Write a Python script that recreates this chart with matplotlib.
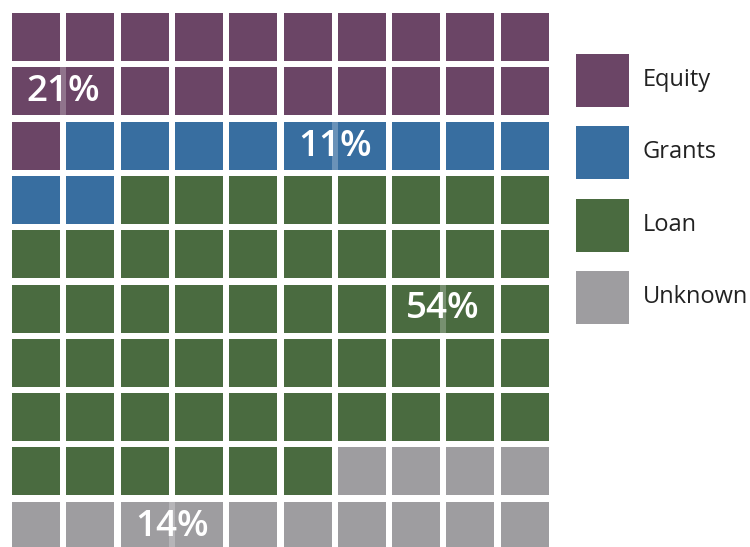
import matplotlib
matplotlib.use('Agg')
import matplotlib.pyplot as plt
from matplotlib.patches import Rectangle

# data
categories = ['Equity', 'Grants', 'Loan', 'Unknown']
counts = [21, 11, 54, 14]
colors = ['#6B4566', '#386EA0', '#4A6B40', '#9E9DA0']
pct_labels = ['21%', '11%', '54%', '14%']
# (row, col) of the gap where each label sits
label_cells = [(1, 0), (2, 5), (5, 7), (9, 2)]

plt.rcParams['font.family'] = ['Open Sans', 'DejaVu Sans']

fig = plt.figure(figsize=(7.5, 5.47), dpi=100)
ax = fig.add_axes([0, 0, 1, 1])
ax.set_xlim(0, 750)
ax.set_ylim(547, 0)
ax.axis('off')

x0, y0 = 12, 13
pitch = 54.3
size = 48

# waffle cells
cells = []
for ci, n in enumerate(counts):
    cells += [ci] * n
for i, ci in enumerate(cells):
    r, c = divmod(i, 10)
    ax.add_patch(Rectangle((x0 + c * pitch, y0 + r * pitch), size, size,
                           facecolor=colors[ci], edgecolor='none'))

# percentage labels, with a translucent fill over the gap behind them
for ci, (r, c) in enumerate(label_cells):
    gx = x0 + c * pitch + size
    gy = y0 + r * pitch
    ax.add_patch(Rectangle((gx, gy), pitch - size, size, facecolor=colors[ci],
                           edgecolor='none', alpha=0.75))
    ax.text(gx + (pitch - size) / 2, gy + size / 2 + 1, pct_labels[ci],
            ha='center', va='center', color='white',
            fontsize=26.5, fontweight='semibold')

# legend
for ci, name in enumerate(categories):
    ly = 54 + ci * 72.3
    ax.add_patch(Rectangle((576, ly), 53, 53, facecolor=colors[ci], edgecolor='none'))
    ax.text(643, ly + 26, name, ha='left', va='center', fontsize=17, color='#222222')

plt.savefig('out.png', dpi=100)
